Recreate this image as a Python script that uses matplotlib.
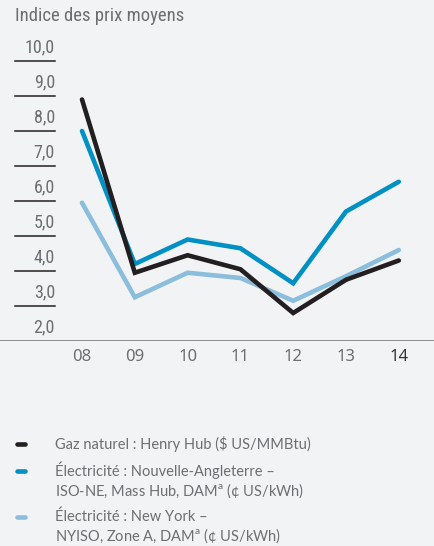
import matplotlib.pyplot as plt
from matplotlib import font_manager

names = sorted({f.name for f in font_manager.fontManager.ttflist})
narrow = 'Roboto'
for cand in ['Roboto Condensed', 'Open Sans Condensed', 'Liberation Sans Narrow',
             'Noto Sans Condensed', 'Ubuntu Condensed', 'DejaVu Sans Condensed']:
    if cand in names:
        narrow = cand
        break

years = ['08', '09', '10', '11', '12', '13', '14']
gaz = [8.9, 3.95, 4.45, 4.05, 2.8, 3.75, 4.3]
nouv_angl = [8.0, 4.2, 4.9, 4.65, 3.65, 5.7, 6.55]
new_york = [5.95, 3.25, 3.95, 3.8, 3.15, 3.85, 4.6]
yticks = [2, 3, 4, 5, 6, 7, 8, 9, 10]

legend_labels = [
    'Gaz naturel : Henry Hub ($ US/MMBtu)',
    'Électricité : Nouvelle-Angleterre –\nISO-NE, Mass Hub, DAM$^{\\mathregular{a}}$ (¢ US/kWh)',
    'Électricité : New York –\nNYISO, Zone A, DAM$^{\\mathregular{a}}$ (¢ US/kWh)',
]

bg = '#f2f3f5'
c_black = '#231f20'
c_blue = '#0090c4'
c_light = '#8bbddc'
grey = '#6d6e71'

W, H = 435, 546
fig = plt.figure(figsize=(W / 100, H / 100), dpi=100, facecolor=bg)

# axes: bottom at y=341 px, 35 px per unit
top_px = 30
ax = fig.add_axes([0, 1 - 341 / H, 1, (341 - top_px) / H])
ax.set_facecolor(bg)
ax.set_ylim(2, 2 + (341 - top_px) / 35)
x0, dx = 82, 52.8
ax.set_xlim(-x0 / dx, (W - x0) / dx)
for s in ax.spines.values():
    s.set_visible(False)
ax.set_xticks([])
ax.set_yticks([])

xs = list(range(len(years)))
for vals, col in [(new_york, c_light), (nouv_angl, c_blue), (gaz, c_black)]:
    ax.plot(xs, vals, color=col, lw=3.3, solid_capstyle='round',
            solid_joinstyle='miter', zorder=3)

ax.axhline(2, color='#8a8a8a', lw=1.4, zorder=2)
for v in yticks:
    if v > 2:
        ax.axhline(v, xmin=15 / W, xmax=55 / W, color='#231f20', lw=1.1)
    ax.text(55 / W, v + 0.38, f'{v},0', transform=ax.get_yaxis_transform(),
            ha='right', va='center', fontsize=13, family=narrow, color=grey)

for i, y in enumerate(years):
    ax.text(i, 2 - 16 / 35, y, ha='center', va='center', fontsize=12,
            family='Noto Sans', color='#333333' if y == '14' else grey,
            fontweight='bold' if y == '14' else 'normal')

fig.text(15 / W, 1 - 16 / H, 'Indice des prix moyens', ha='left', va='center',
         fontsize=13.5, family=narrow, color=grey)

# legend
leg_y = [444, 481, 527]
for (yp, col, lab) in zip(leg_y, [c_black, c_blue, c_light], legend_labels):
    mark_y = yp if '\n' not in lab else yp - 10
    fig.add_artist(plt.Line2D([17 / W, 25 / W], [1 - mark_y / H] * 2,
                              color=col, lw=3.3, solid_capstyle='round'))
    fig.text(55 / W, 1 - yp / H, lab, ha='left', va='center', fontsize=10.5,
             family='Lato', color=grey, linespacing=1.15)

fig.savefig('out.png', dpi=100, facecolor=bg)
